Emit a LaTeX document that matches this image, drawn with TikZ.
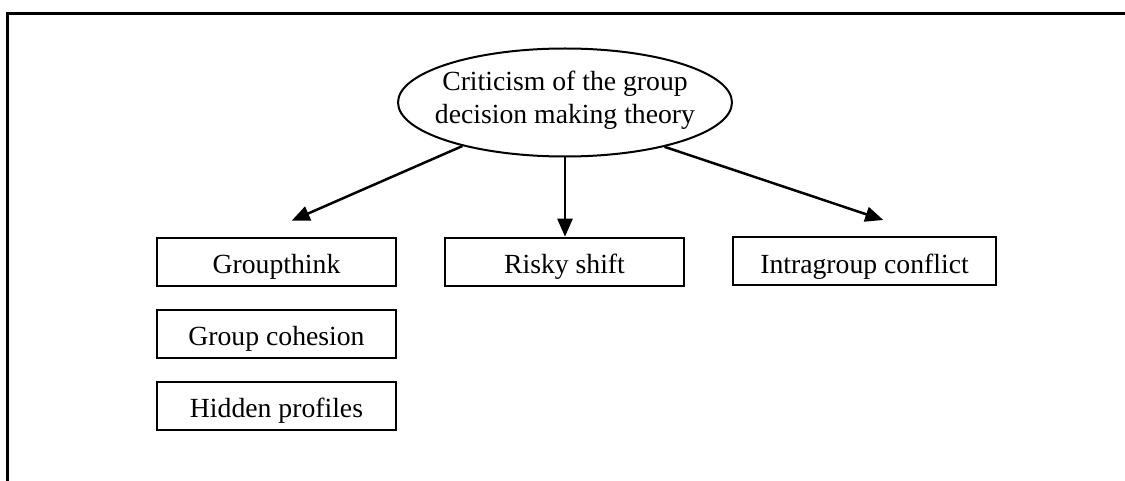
\documentclass[tikz,border=0pt]{standalone}
\usepackage{fontspec}
\setmainfont{Liberation Serif}
\usetikzlibrary{shapes.geometric,arrows.meta}
\begin{document}
\begin{tikzpicture}[x=1pt,y=-1pt,
  txt/.style={font=\fontsize{27.7}{32.6}\selectfont},
  topic/.style={draw,line width=2pt,ellipse,minimum width=334pt,minimum height=108pt,inner sep=0pt},
  itembox/.style={draw,line width=2pt,txt,inner sep=0pt,minimum height=48pt,text height=23pt,text depth=0pt},
  link/.style={line width=2.5pt,-{Triangle[length=18pt,width=15pt]}},
  frame/.style={line width=3pt}]
  \useasboundingbox (0,0) rectangle (1125,481);
  % open frame: only top and left edges are visible
  \draw[frame] (7.7,481) -- (7.7,14) -- (1125,14);

  % central topic
  \node[topic] (crit) at (565,102.5) {};
  \node[txt,align=center,inner sep=0pt] (critText) at (565,100.5)
    {Criticism of the group\\decision making theory};

  % boxes
  \node[itembox,minimum width=239pt] (gthink) at (276.5,262) {Groupthink};
  \node[itembox,minimum width=239pt] (gcoh) at (276.5,333.7) {Group cohesion};
  \node[itembox,minimum width=239pt] (hidden) at (276.5,405.5) {Hidden profiles};
  \node[itembox,minimum width=239pt] (risky) at (564.5,261.7) {Risky shift};
  \node[itembox,minimum width=263pt] (intra) at (864.5,261.5) {Intragroup conflict};

  % arrow tips stop short of the side boxes
  \coordinate (tipL) at (291.7,220.7);
  \coordinate (tipR) at (883.3,220);

  \draw[link] (crit.203) -- (tipL);
  \draw[link] (crit.south) -- (crit.south |- risky.north);
  \draw[link] (crit.336) -- (tipR);
\end{tikzpicture}
\end{document}
